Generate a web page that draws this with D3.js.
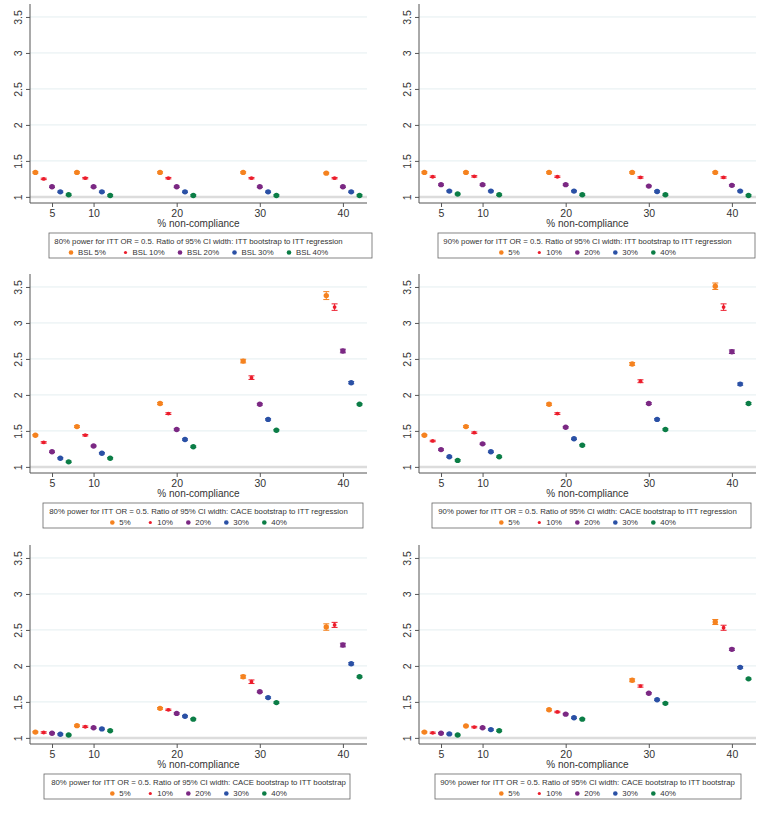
<!DOCTYPE html>
<html>
<head>
<meta charset="utf-8">
<script src="https://cdn.jsdelivr.net/npm/d3@7"></script>
<style>
  body { margin: 0; background: #fff; }
  svg { font-family: "Liberation Sans", Arial, Helvetica, sans-serif; }
</style>
</head>
<body>
<div id="chart"></div>
<script>
// x positions: nominal % non-compliance, each baseline series is offset around it
var xGroups = [5, 10, 20, 30, 40];
var seriesOffsets = [-2, -1, 0, 1, 2];
var seriesLabels = ["5%", "10%", "20%", "30%", "40%"];
var bslLabels = ["BSL 5%", "BSL 10%", "BSL 20%", "BSL 30%", "BSL 40%"];
var seriesColors = ["#f5821f", "#ec1c2b", "#7b2883", "#2a50a5", "#0b7d46"];
var xTicks = [5, 10, 20, 30, 40];
var yTicks = [1, 1.5, 2, 2.5, 3, 3.5];

// values [group][series]
var ittBoot80 = [
  [1.34, 1.25, 1.14, 1.07, 1.03],
  [1.34, 1.26, 1.14, 1.07, 1.02],
  [1.34, 1.26, 1.14, 1.07, 1.02],
  [1.34, 1.26, 1.14, 1.07, 1.02],
  [1.33, 1.26, 1.14, 1.07, 1.02]
];
var ittBoot90 = [
  [1.34, 1.28, 1.17, 1.08, 1.04],
  [1.34, 1.285, 1.17, 1.08, 1.03],
  [1.34, 1.28, 1.17, 1.08, 1.03],
  [1.34, 1.27, 1.15, 1.075, 1.03],
  [1.34, 1.27, 1.16, 1.08, 1.02]
];
var caceReg80 = [
  [1.44, 1.34, 1.21, 1.12, 1.07],
  [1.56, 1.44, 1.29, 1.19, 1.12],
  [1.88, 1.74, 1.52, 1.38, 1.28],
  [2.47, 2.24, 1.87, 1.66, 1.51],
  [3.38, 3.22, 2.61, 2.17, 1.87]
];
var caceReg90 = [
  [1.44, 1.36, 1.24, 1.14, 1.09],
  [1.56, 1.475, 1.32, 1.21, 1.14],
  [1.87, 1.74, 1.55, 1.39, 1.30],
  [2.43, 2.19, 1.88, 1.66, 1.52],
  [3.51, 3.22, 2.60, 2.15, 1.88]
];
var caceBoot80 = [
  [1.08, 1.075, 1.065, 1.05, 1.04],
  [1.17, 1.155, 1.14, 1.125, 1.10],
  [1.41, 1.39, 1.34, 1.30, 1.26],
  [1.85, 1.78, 1.64, 1.56, 1.49],
  [2.54, 2.57, 2.29, 2.03, 1.85]
];
var caceBoot90 = [
  [1.08, 1.07, 1.065, 1.055, 1.04],
  [1.165, 1.15, 1.14, 1.115, 1.10],
  [1.39, 1.36, 1.33, 1.28, 1.26],
  [1.80, 1.72, 1.62, 1.53, 1.48],
  [2.61, 2.53, 2.23, 1.98, 1.82]
];

// 95% CI half-widths [group][series]
var ittErr = [
  [0.01, 0.01, 0.01, 0.01, 0.01],
  [0.01, 0.01, 0.01, 0.01, 0.01],
  [0.01, 0.01, 0.01, 0.01, 0.01],
  [0.01, 0.01, 0.01, 0.01, 0.01],
  [0.01, 0.01, 0.01, 0.01, 0.01]
];
var caceReg80Err = [
  [0.01, 0.01, 0.01, 0.01, 0.01],
  [0.012, 0.01, 0.01, 0.01, 0.01],
  [0.015, 0.012, 0.01, 0.01, 0.01],
  [0.025, 0.025, 0.012, 0.01, 0.01],
  [0.055, 0.045, 0.025, 0.015, 0.01]
];
var caceReg90Err = [
  [0.01, 0.01, 0.01, 0.01, 0.01],
  [0.012, 0.01, 0.01, 0.01, 0.01],
  [0.015, 0.012, 0.01, 0.01, 0.01],
  [0.02, 0.02, 0.012, 0.01, 0.01],
  [0.045, 0.045, 0.025, 0.015, 0.012]
];
var caceBoot80Err = [
  [0.01, 0.01, 0.01, 0.01, 0.01],
  [0.01, 0.01, 0.01, 0.01, 0.01],
  [0.012, 0.01, 0.01, 0.01, 0.01],
  [0.02, 0.025, 0.01, 0.01, 0.01],
  [0.045, 0.035, 0.025, 0.015, 0.01]
];
var caceBoot90Err = [
  [0.01, 0.01, 0.01, 0.01, 0.01],
  [0.01, 0.01, 0.01, 0.01, 0.01],
  [0.012, 0.01, 0.01, 0.01, 0.01],
  [0.02, 0.015, 0.01, 0.01, 0.01],
  [0.035, 0.035, 0.015, 0.012, 0.01]
];

var titles = [
  "80% power for ITT OR = 0.5. Ratio of 95% CI width: ITT bootstrap to ITT regression",
  "90% power for ITT OR = 0.5. Ratio of 95% CI width: ITT bootstrap to ITT regression",
  "80% power for ITT OR = 0.5. Ratio of 95% CI width: CACE bootstrap to ITT regression",
  "90% power for ITT OR = 0.5. Ratio of 95% CI width: CACE bootstrap to ITT regression",
  "80% power for ITT OR = 0.5. Ratio of 95% CI width: CACE bootstrap to ITT bootstrap",
  "90% power for ITT OR = 0.5. Ratio of 95% CI width: CACE bootstrap to ITT bootstrap"
];

var panels = [
  { values: ittBoot80, err: ittErr, labels: bslLabels, spacing: 54.5, box: [49, 372] },
  { values: ittBoot90, err: ittErr, labels: seriesLabels, spacing: 38, box: [55, 372] },
  { values: caceReg80, err: caceReg80Err, labels: seriesLabels, spacing: 38, box: [43, 363] },
  { values: caceReg90, err: caceReg90Err, labels: seriesLabels, spacing: 38, box: [49, 368] },
  { values: caceBoot80, err: caceBoot80Err, labels: seriesLabels, spacing: 38, box: [44, 350] },
  { values: caceBoot90, err: caceBoot90Err, labels: seriesLabels, spacing: 38, box: [52, 358] }
];
panels.forEach(function(p, i) { p.title = titles[i]; });

var svgWidth = 766;
var svgHeight = 816;
var colWidth = 383;
var rowOffsets = [0, 270, 541];

var svg = d3.select("#chart")
  .append("svg")
  .attr("width", svgWidth)
  .attr("height", svgHeight);

panels.forEach(function(p, i) {
  var col = i % 2;
  var row = Math.floor(i / 2);
  var plotLeft = col === 0 ? 30 : 36;
  var plotRight = plotLeft + 337;
  var plotTop = 4;
  var plotBottom = 203;

  var g = svg.append("g")
    .attr("transform", `translate(${col * colWidth}, ${rowOffsets[row]})`);

  var x = d3.scaleLinear().domain([2.35, 42.9]).range([plotLeft, plotRight]);
  var y = d3.scaleLinear().domain([0.915, 3.68]).range([plotBottom, plotTop]);

  // gridlines
  g.append("g").selectAll("line")
    .data(yTicks.filter(d => d > 1))
    .enter().append("line")
    .attr("x1", plotLeft).attr("x2", plotRight)
    .attr("y1", d => y(d)).attr("y2", d => y(d))
    .attr("stroke", "#e4eef0")
    .attr("stroke-width", 1);

  // reference line at 1
  g.append("line")
    .attr("x1", plotLeft).attr("x2", plotRight)
    .attr("y1", y(1)).attr("y2", y(1))
    .attr("stroke", "#dcdcdc")
    .attr("stroke-width", 2.5);

  // y axis
  var leftAxis = d3.axisLeft(y).tickValues(yTicks).tickSize(4).tickPadding(3)
    .tickFormat(d3.format("~g"));
  var yAxisG = g.append("g")
    .attr("transform", `translate(${plotLeft},0)`)
    .call(leftAxis);
  yAxisG.select(".domain").attr("d", `M0,${plotTop}V${plotBottom}`).attr("stroke", "#555");
  yAxisG.selectAll(".tick line").attr("stroke", "#555");
  yAxisG.selectAll(".tick text")
    .attr("transform", "rotate(-90)")
    .attr("x", 0)
    .attr("y", -8)
    .attr("dy", 0)
    .attr("text-anchor", "middle")
    .attr("font-size", 10.5)
    .attr("fill", "#333");

  // x axis
  var bottomAxis = d3.axisBottom(x).tickValues(xTicks).tickSize(4).tickPadding(3);
  var xAxisG = g.append("g")
    .attr("transform", `translate(0,${plotBottom})`)
    .call(bottomAxis);
  xAxisG.select(".domain").attr("d", `M${plotLeft},0H${plotRight}`).attr("stroke", "#555");
  xAxisG.selectAll(".tick line").attr("stroke", "#555");
  xAxisG.selectAll(".tick text").attr("font-size", 10.5).attr("fill", "#333");

  g.append("text")
    .attr("x", (plotLeft + plotRight) / 2)
    .attr("y", 227)
    .attr("text-anchor", "middle")
    .attr("font-size", 10)
    .attr("fill", "#333")
    .text("% non-compliance");

  // flatten points
  var pts = [];
  p.values.forEach(function(grp, gi) {
    grp.forEach(function(v, si) {
      pts.push({ x: xGroups[gi] + seriesOffsets[si], v: v, e: p.err[gi][si], s: si });
    });
  });

  // error bars with caps
  var bars = g.append("g").selectAll("g")
    .data(pts)
    .enter().append("g")
    .attr("stroke", d => seriesColors[d.s])
    .attr("stroke-width", 1);
  bars.append("line")
    .attr("x1", d => x(d.x)).attr("x2", d => x(d.x))
    .attr("y1", d => y(d.v - d.e)).attr("y2", d => y(d.v + d.e));
  bars.append("line")
    .attr("x1", d => x(d.x) - 3).attr("x2", d => x(d.x) + 3)
    .attr("y1", d => y(d.v - d.e)).attr("y2", d => y(d.v - d.e));
  bars.append("line")
    .attr("x1", d => x(d.x) - 3).attr("x2", d => x(d.x) + 3)
    .attr("y1", d => y(d.v + d.e)).attr("y2", d => y(d.v + d.e));

  g.append("g").selectAll("circle")
    .data(pts)
    .enter().append("circle")
    .attr("cx", d => x(d.x))
    .attr("cy", d => y(d.v))
    .attr("r", d => d.s === 1 ? 1.9 : 2.7)
    .attr("fill", d => seriesColors[d.s]);

  // legend
  var legend = g.append("g");
  legend.append("rect")
    .attr("x", p.box[0]).attr("y", 233)
    .attr("width", p.box[1] - p.box[0]).attr("height", 25)
    .attr("fill", "#fff")
    .attr("stroke", "#666")
    .attr("stroke-width", 0.8);
  legend.append("text")
    .attr("x", (plotLeft + plotRight) / 2)
    .attr("y", 244)
    .attr("text-anchor", "middle")
    .attr("font-size", 7.8)
    .attr("fill", "#333")
    .text(p.title);

  var keys = legend.append("g");
  var items = keys.selectAll("g")
    .data(p.labels)
    .enter().append("g")
    .attr("transform", (d, k) => `translate(${k * p.spacing},0)`);
  items.append("circle")
    .attr("cx", 0).attr("cy", 252.5)
    .attr("r", (d, k) => k === 1 ? 1.6 : 2.3)
    .attr("fill", (d, k) => seriesColors[k]);
  items.append("text")
    .attr("x", 7).attr("y", 255.3)
    .attr("font-size", 7.8)
    .attr("fill", "#333")
    .text(d => d);
  var bb = keys.node().getBBox();
  keys.attr("transform", `translate(${(plotLeft + plotRight) / 2 - bb.x - bb.width / 2},0)`);
});
</script>
</body>
</html>
